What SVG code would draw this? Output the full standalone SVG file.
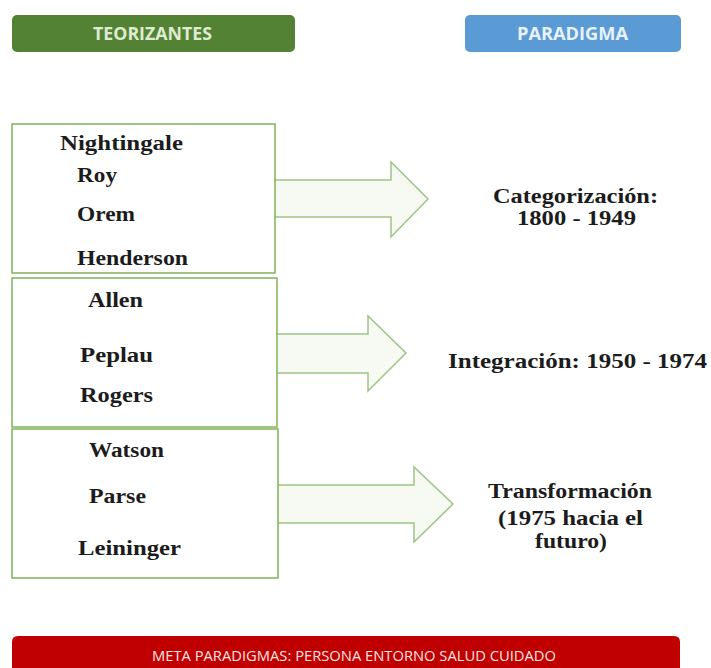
<svg xmlns="http://www.w3.org/2000/svg" width="711" height="668" viewBox="0 0 711 668">
<style>
.box{fill:#ffffff;stroke:#7fb35a;stroke-width:1.5}
.arrow{fill:#f6faf2;stroke:#9fc384;stroke-width:1.5;stroke-linejoin:miter}
.name{font-family:"Liberation Serif","Times New Roman",serif;font-weight:bold;font-size:20px;fill:#1c1c1c}
.para{font-family:"Liberation Serif","Times New Roman",serif;font-weight:bold;font-size:20px;fill:#1c1c1c}
.hdr{font-family:"Open Sans","Liberation Sans",sans-serif;font-weight:bold;font-size:17px}
.meta{font-family:"Open Sans","Liberation Sans",sans-serif;font-size:15px;fill:#fbe3e3}
</style>
<rect width="711" height="668" fill="#ffffff"/>
<g id="hdr-teorizantes">
<rect x="12" y="15" width="283" height="37" rx="5" fill="#548235"/>
<text class="hdr" x="93" y="40" fill="#deebd0" textLength="119" lengthAdjust="spacingAndGlyphs">TEORIZANTES</text>
</g>
<g id="hdr-paradigma">
<rect x="465" y="15" width="216" height="37" rx="5" fill="#5b9bd5"/>
<text class="hdr" x="517" y="40" fill="#e8f1fa" textLength="111" lengthAdjust="spacingAndGlyphs">PARADIGMA</text>
</g>
<g id="connectors">
<path class="arrow" d="M275,180 H391 V162 L428,199 L391,237 V217 H275"/>
<path class="arrow" d="M277,334 H368 V316 L406,353 L368,391 V373 H277"/>
<path class="arrow" d="M278,485 H414 V467 L453,504 L414,542 V523 H278"/>
</g>
<g id="box-categorizacion">
<rect class="box" x="12" y="124" width="263" height="149"/>
<text class="name" x="60" y="150" textLength="123" lengthAdjust="spacingAndGlyphs">Nightingale</text>
<text class="name" x="77" y="182" textLength="40" lengthAdjust="spacingAndGlyphs">Roy</text>
<text class="name" x="77" y="221" textLength="58" lengthAdjust="spacingAndGlyphs">Orem</text>
<text class="name" x="77" y="265" textLength="111" lengthAdjust="spacingAndGlyphs">Henderson</text>
</g>
<g id="box-integracion">
<rect class="box" x="12" y="278" width="265" height="149"/>
<text class="name" x="88" y="307" textLength="55" lengthAdjust="spacingAndGlyphs">Allen</text>
<text class="name" x="80" y="362" textLength="73" lengthAdjust="spacingAndGlyphs">Peplau</text>
<text class="name" x="80" y="402" textLength="73" lengthAdjust="spacingAndGlyphs">Rogers</text>
</g>
<g id="box-transformacion">
<rect class="box" x="12" y="429" width="266" height="149"/>
<text class="name" x="89" y="457" textLength="75" lengthAdjust="spacingAndGlyphs">Watson</text>
<text class="name" x="89" y="503" textLength="57" lengthAdjust="spacingAndGlyphs">Parse</text>
<text class="name" x="78" y="555" textLength="103" lengthAdjust="spacingAndGlyphs">Leininger</text>
</g>
<g id="para-categorizacion">
<text class="para" x="493" y="203" textLength="165" lengthAdjust="spacingAndGlyphs">Categorización:</text>
<text class="para" x="517" y="225" textLength="119" lengthAdjust="spacingAndGlyphs">1800 - 1949</text>
</g>
<g id="para-integracion">
<text class="para" x="448" y="368" textLength="259" lengthAdjust="spacingAndGlyphs">Integración:  1950 - 1974</text>
</g>
<g id="para-transformacion">
<text class="para" x="488" y="498" textLength="164" lengthAdjust="spacingAndGlyphs">Transformación</text>
<text class="para" x="498" y="525" textLength="145" lengthAdjust="spacingAndGlyphs">(1975 hacia el</text>
<text class="para" x="535" y="548" textLength="72" lengthAdjust="spacingAndGlyphs">futuro)</text>
</g>
<g id="meta-paradigmas">
<path d="M12,672 V642 Q12,636 18,636 H674 Q680,636 680,642 V672 Z" fill="#c00000"/>
<text class="meta" x="152" y="661" textLength="404" lengthAdjust="spacingAndGlyphs">META PARADIGMAS: PERSONA ENTORNO SALUD CUIDADO</text>
</g>
</svg>
